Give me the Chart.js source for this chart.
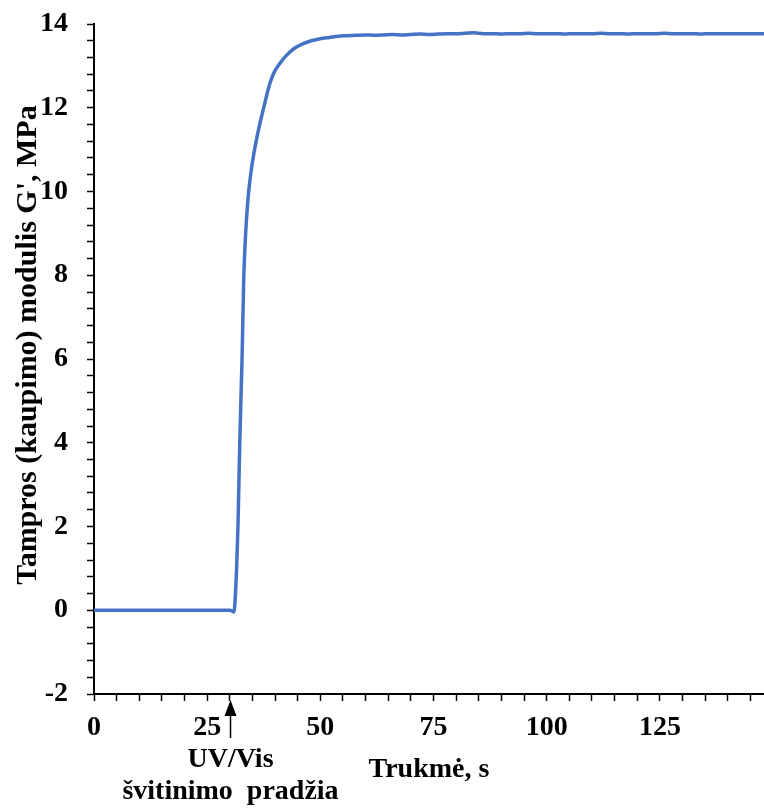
<!DOCTYPE html>
<html>
<head>
<meta charset="utf-8">
<script src="https://cdn.jsdelivr.net/npm/chart.js@4/dist/chart.umd.min.js"></script>
<style>
  html, body { margin: 0; padding: 0; background: #fff; }
  #wrap { width: 764px; height: 809px; }
</style>
</head>
<body>
<div id="wrap"><canvas id="chart" width="764" height="809"></canvas></div>
<script>
// Storage modulus G' during UV/Vis curing
const timeSec = [0, 5, 10, 15, 20, 25, 30, 30.9, 31.2, 31.5, 31.8, 32.2, 32.7, 33.1, 33.5, 34.0,
    34.6, 35.3, 36.0, 36.8, 37.6, 38.5, 39.6, 41.0, 42.5, 44.3, 46.2, 48, 50, 52, 54, 56, 58, 60,
    62, 64, 66, 68, 70, 72, 74, 76, 78, 80, 82, 84, 86, 88, 90, 92, 94, 96, 98, 100, 102, 104,
    106, 108, 110, 112, 114, 116, 118, 120, 122, 124, 126, 128, 130, 132, 134, 136, 138, 140,
    142, 144, 146, 148];
const modulusMPa = [0, 0, 0, 0, 0, 0, 0, -0.04, 0.3, 1.0, 2.0, 4.0, 6.0, 8.0, 9.0, 9.8,
    10.4, 10.9, 11.3, 11.7, 12.05, 12.45, 12.8, 13.05, 13.25, 13.42, 13.53, 13.6, 13.65, 13.68, 13.71, 13.72, 13.73, 13.74,
    13.73, 13.74, 13.75, 13.74, 13.75, 13.76, 13.75, 13.76, 13.77, 13.77, 13.78, 13.79, 13.77, 13.77, 13.76, 13.77, 13.77, 13.78, 13.77, 13.77, 13.77, 13.76,
    13.77, 13.77, 13.77, 13.78, 13.77, 13.77, 13.76, 13.77, 13.77, 13.77, 13.78, 13.77, 13.77, 13.77, 13.76, 13.77, 13.77, 13.77,
    13.77, 13.77, 13.77, 13.77];
const xMajorTicks = [0, 25, 50, 75, 100, 125];
const yMajorTicks = [-2, 0, 2, 4, 6, 8, 10, 12, 14];
const uvStartSec = 30;

const xTitle = 'Trukmė, s';
const yTitle = "Tampros (kaupimo) modulis G', MPa";
const uvLabel = ['UV/Vis', 'švitinimo  pradžia'];

const FONT = '"Liberation Serif", "Times New Roman", serif';

const near = (v, list) => list.some(t => Math.abs(t - v) < 1e-6);

// arrow + captions under the x axis, and the rotated y title
const annotations = {
    id: 'annotations',
    afterDraw(chart) {
        const ctx = chart.ctx;
        const xs = chart.scales.x;
        const ax = Math.round(xs.getPixelForValue(uvStartSec)) + 0.5;
        const base = chart.chartArea.bottom;
        ctx.save();
        ctx.fillStyle = '#000';
        ctx.strokeStyle = '#000';
        ctx.lineWidth = 1.5;
        ctx.beginPath();
        ctx.moveTo(ax, base + 16);
        ctx.lineTo(ax, base + 44);
        ctx.stroke();
        ctx.beginPath();
        ctx.moveTo(ax, base + 6);
        ctx.lineTo(ax - 6, base + 22);
        ctx.lineTo(ax + 6, base + 22);
        ctx.closePath();
        ctx.fill();

        ctx.font = 'bold 28px ' + FONT;
        ctx.textAlign = 'center';
        ctx.textBaseline = 'alphabetic';
        ctx.fillText(uvLabel[0], ax, 767);
        ctx.fillText(uvLabel[1], ax, 799);
        ctx.fillText(xTitle, (chart.chartArea.left + chart.chartArea.right) / 2, 777);

        ctx.font = 'bold 30px ' + FONT;
        ctx.translate(36, 345);
        ctx.rotate(-Math.PI / 2);
        ctx.fillText(yTitle, 0, 0);
        ctx.restore();
    }
};

new Chart(document.getElementById('chart'), {
    type: 'line',
    data: {
        datasets: [{
            data: timeSec.map((t, i) => ({ x: t, y: modulusMPa[i] })),
            borderColor: '#4472C4',
            borderWidth: 3.5,
            pointRadius: 0,
            cubicInterpolationMode: 'monotone',
            fill: false
        }]
    },
    options: {
        responsive: false,
        devicePixelRatio: 1,
        animation: false,
        layout: { autoPadding: false, padding: { top: 24, right: 0, left: 0, bottom: 0 } },
        plugins: { legend: { display: false }, tooltip: { enabled: false } },
        scales: {
            x: {
                type: 'linear', min: 0, max: 148,
                afterFit: s => { s.height = 115; s.paddingLeft = 0; s.paddingRight = 0; },
                border: { color: '#000', width: 2 },
                grid: { drawOnChartArea: false, drawTicks: true, tickLength: 7, color: '#000', tickWidth: 1.5 },
                ticks: {
                    stepSize: 5, includeBounds: false, autoSkip: false, maxRotation: 0,
                    padding: 10, color: '#000',
                    font: { family: FONT, size: 28, weight: 'bold' },
                    callback: v => near(v, xMajorTicks) ? String(v) : ''
                }
            },
            y: {
                min: -2, max: 14,
                afterFit: s => { s.width = 94; s.paddingTop = 0; s.paddingBottom = 0; },
                border: { color: '#000', width: 2 },
                grid: { drawOnChartArea: false, drawTicks: true, tickLength: 7, color: '#000', tickWidth: 1.5 },
                ticks: {
                    stepSize: 0.4, autoSkip: false, padding: 19, color: '#000',
                    font: { family: FONT, size: 28, weight: 'bold' },
                    callback: v => near(v, yMajorTicks) ? String(Math.round(v)) : ''
                }
            }
        }
    },
    plugins: [annotations]
});
</script>
</body>
</html>
